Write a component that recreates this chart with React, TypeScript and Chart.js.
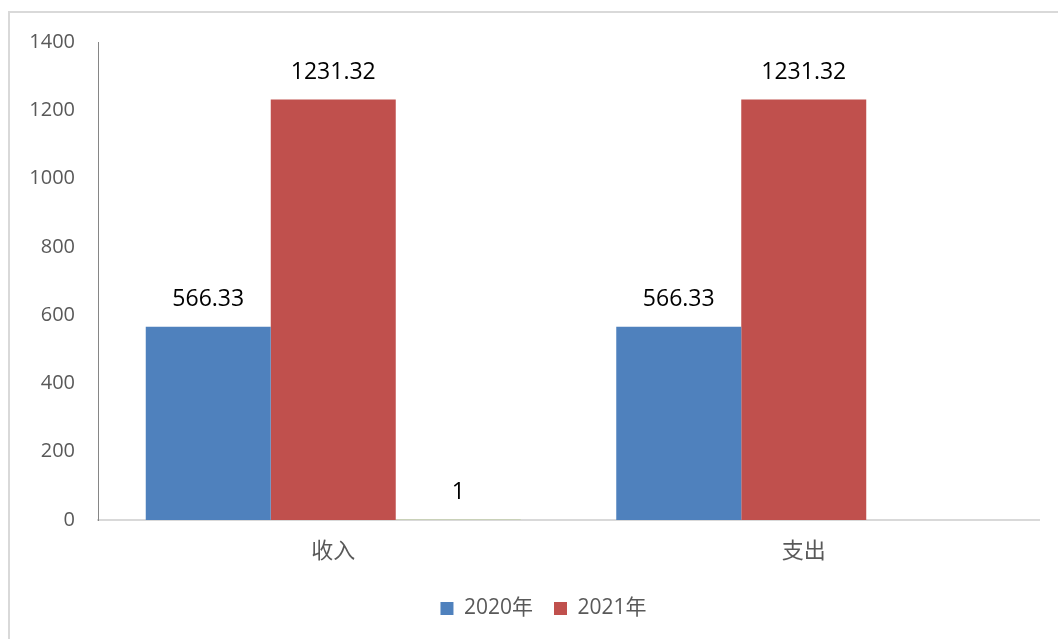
import React, { useEffect, useRef } from "react";
import { Chart, registerables } from "chart.js";

Chart.register(...registerables);

const categories = ["收入", "支出"];
const seriesNames = ["2020年", "2021年", ""];
const values2020 = [566.33, 566.33];
const values2021 = [1231.32, 1231.32];
const valuesExtra: (number | null)[] = [1, null];
const yTickValues = [0, 200, 400, 600, 800, 1000, 1200, 1400];
const colors = ["#4F81BD", "#C0504D", "#9BBB59"];

const FONT = '"Open Sans", "Noto Sans CJK SC", sans-serif';

const framePlugin = {
  id: "frame",
  afterLayout(chart: any) {
    if (chart.legend) {
      chart.legend.left += 48;
    }
  },
  beforeDraw(chart: any) {
    const ctx = chart.ctx;
    ctx.save();
    ctx.fillStyle = "#ffffff";
    ctx.fillRect(0, 0, chart.width, chart.height);
    ctx.strokeStyle = "#D9D9D9";
    ctx.lineWidth = 2;
    ctx.beginPath();
    ctx.moveTo(9, chart.height);
    ctx.lineTo(9, 12);
    ctx.lineTo(chart.width, 12);
    ctx.stroke();
    ctx.restore();
  },
};

const labelPlugin = {
  id: "valueLabels",
  afterDatasetsDraw(chart: any) {
    const ctx = chart.ctx;
    ctx.save();
    ctx.font = `23px ${FONT}`;
    ctx.fillStyle = "#000000";
    ctx.textAlign = "center";
    ctx.textBaseline = "middle";
    chart.data.datasets.forEach((ds: any, di: number) => {
      const meta = chart.getDatasetMeta(di);
      meta.data.forEach((el: any, i: number) => {
        const v = ds.data[i];
        if (v === null || v === undefined) return;
        ctx.fillText(String(v), el.x, el.y - 27);
      });
    });
    ctx.restore();
  },
};

export default function App() {
  const ref = useRef<HTMLCanvasElement | null>(null);

  useEffect(() => {
    if (!ref.current) return;
    const chart = new Chart(ref.current, {
      type: "bar",
      data: {
        labels: categories,
        datasets: [
          { label: seriesNames[0], data: values2020, backgroundColor: colors[0] },
          { label: seriesNames[1], data: values2021, backgroundColor: colors[1] },
          { label: seriesNames[2], data: valuesExtra, backgroundColor: colors[2] },
        ],
      },
      options: {
        animation: false,
        responsive: false,
        maintainAspectRatio: false,
        datasets: {
          bar: { categoryPercentage: 0.797, barPercentage: 1.0 },
        },
        layout: { padding: { left: 0, right: 19, top: 42, bottom: 10 } },
        plugins: {
          legend: {
            position: "bottom",
            labels: {
              boxWidth: 13,
              boxHeight: 13,
              padding: 21,
              color: "#595959",
              font: { family: FONT, size: 21 },
              filter: (item: any) => item.datasetIndex !== 2,
            },
          },
          tooltip: { enabled: false },
        },
        scales: {
          x: {
            grid: { display: false, drawTicks: false },
            border: { display: true, color: "#D9D9D9", width: 2 },
            ticks: {
              color: "#595959",
              font: { family: FONT, size: 22 },
              padding: 19,
            },
            afterFit: (s: any) => {
              s.height = 57;
            },
          },
          y: {
            min: 0,
            max: 1400,
            grid: { display: false, drawTicks: false },
            border: { display: true, color: "#868686", width: 1 },
            afterBuildTicks: (s: any) => {
              s.ticks = yTickValues.map((v) => ({ value: v }));
            },
            ticks: {
              color: "#595959",
              font: { family: FONT, size: 20 },
              padding: 23,
              callback: (v: any) => String(v),
            },
            afterFit: (s: any) => {
              s.width = 98;
            },
          },
        },
      },
      plugins: [framePlugin, labelPlugin],
    });
    return () => chart.destroy();
  }, []);

  return (
    <div style={{ position: "fixed", left: 0, top: 0, width: 1058, height: 639 }}>
      <canvas ref={ref} width={1058} height={639} />
    </div>
  );
}
